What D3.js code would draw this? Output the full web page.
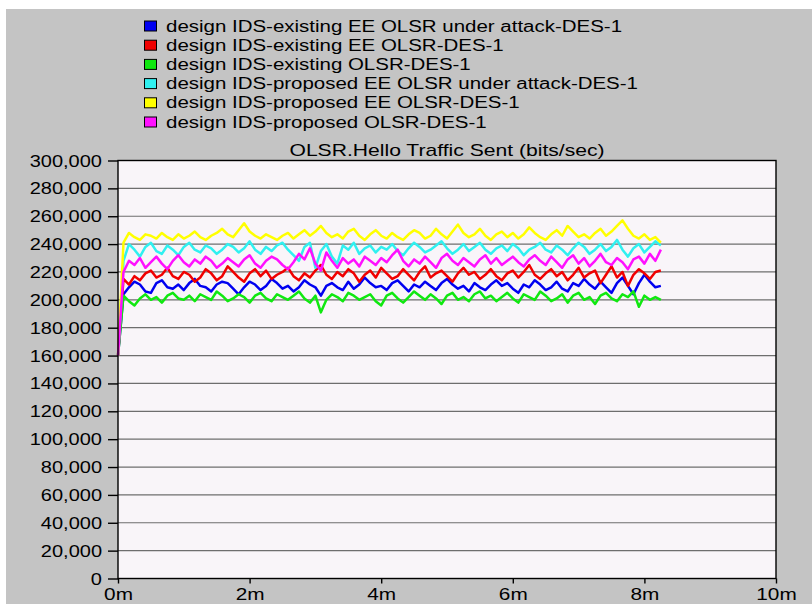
<!DOCTYPE html>
<html>
<head>
<meta charset="utf-8">
<script src="https://cdn.jsdelivr.net/npm/d3@7"></script>
<style>
  html, body { margin: 0; padding: 0; background: #ffffff; }
  svg { display: block; }
  text { font-family: "Liberation Sans", Arial, sans-serif; fill: #000; }
</style>
</head>
<body>
<div id="chart"></div>
<script>
// series names, legend order
var seriesNames = [
  "design IDS-existing EE OLSR under attack-DES-1",
  "design IDS-existing EE OLSR-DES-1",
  "design IDS-existing OLSR-DES-1",
  "design IDS-proposed EE OLSR under attack-DES-1",
  "design IDS-proposed EE OLSR-DES-1",
  "design IDS-proposed OLSR-DES-1"
];
var seriesColors = ["#0000f0", "#f00000", "#10e810", "#30f0f0", "#ffff00", "#ff10ff"];

// sample spacing (seconds)
var sampleSeconds = 5;

// values in thousands of bits/sec
var existingUnderAttack = [
  160, 204, 209, 213, 211, 206, 205, 212, 214, 209,
  208, 211, 207, 212, 215, 210, 209, 206, 211, 213,
  212, 208, 204, 209, 213, 211, 207, 210, 215, 212,
  208, 210, 206, 209, 214, 211, 209, 203, 210, 212,
  209, 207, 213, 208, 211, 216, 212, 209, 210, 207,
  212, 214, 210, 206, 211, 209, 213, 210, 207, 212,
  215, 211, 208, 210, 206, 212, 209, 207, 211, 214,
  210, 212, 208, 205, 211, 209, 214, 211, 207, 209,
  213, 208, 206, 212, 210, 215, 211, 208, 213, 209,
  205, 212, 216, 210, 204, 212, 218, 213, 209, 210
];
var existingEE = [
  160, 215, 211, 217, 214, 219, 221, 216, 218, 223,
  217, 215, 220, 218, 213, 216, 222, 219, 214, 217,
  224, 220, 216, 213, 219, 222, 217, 221, 215, 218,
  220, 223, 217, 214, 219, 216, 221, 225, 218, 215,
  220, 217, 222, 219, 213, 218, 221, 216, 223, 219,
  215, 217, 222, 218, 214, 220, 224, 216, 219, 221,
  217, 213, 219, 223, 218, 220, 215, 218, 222, 217,
  214, 219, 221, 216, 220, 225, 218, 215, 219, 222,
  217, 220, 214, 218, 223, 216, 219, 221, 212, 218,
  224, 216, 220, 210, 218, 222, 219, 215, 220, 221
];
var existingOLSR = [
  160, 203, 199, 196, 201, 204, 200, 202, 198, 203,
  205, 201, 200, 203, 199, 204, 202, 200, 206, 203,
  199, 201, 204, 202, 198, 203, 205, 201, 199, 204,
  202, 200, 203, 206, 201, 198, 203, 191, 200, 204,
  202, 199, 205, 203, 200, 202, 204, 199, 196, 203,
  205, 201, 198, 202, 206, 203, 200, 204, 201, 197,
  203, 205, 200, 202, 199, 204, 206, 201, 203, 199,
  202, 205, 201, 198, 204, 202, 200, 206, 203, 199,
  201, 204, 198, 203, 205, 200, 202, 197, 203, 205,
  201, 199, 204, 202, 206, 195, 203, 200, 202, 200
];
var proposedUnderAttack = [
  160, 228, 240, 236, 231, 238, 241, 235, 233, 239,
  236, 232, 238, 241, 236, 234, 239, 237, 233, 236,
  240, 238, 234, 237, 242, 236, 233, 238, 235, 239,
  241, 236, 232, 228, 238, 241, 223, 235, 240, 231,
  226, 239, 236, 241, 233, 237, 239, 234, 238, 236,
  240, 235, 232, 237, 241, 238, 234, 236, 239, 242,
  237, 233, 236, 240, 235, 238, 241, 236, 233, 237,
  239, 235, 240, 237, 232, 236, 238, 241, 236, 234,
  239, 236, 232, 237, 241, 238, 233, 236, 240, 235,
  238, 243, 236, 231, 237, 240, 234, 238, 242, 239
];
var proposedEE = [
  160, 241, 248, 245, 243, 247, 246, 244, 248, 245,
  243, 247, 244, 246, 249, 245, 243, 246, 248, 251,
  247, 245, 250, 255, 249, 246, 244, 247, 245, 243,
  246, 248, 244, 247, 250, 246, 249, 253, 248, 245,
  247, 244, 249, 251, 246, 243, 247, 250, 246, 244,
  248, 245, 243, 247, 250, 248, 244, 246, 251, 247,
  244, 249, 254, 248, 245, 247, 251, 246, 243, 247,
  249, 245, 248, 244, 247, 252, 248, 245, 243, 247,
  250, 246, 253, 249, 245, 247, 244, 248, 251, 246,
  249, 253, 257, 251, 246, 244, 247, 243, 245, 241
];
var proposedOLSR = [
  160, 220, 228, 225, 230, 223, 227, 231, 226, 222,
  228, 232, 227, 224, 229, 226, 231, 228, 223, 226,
  230, 227, 224, 229, 232, 226, 223, 228, 231, 229,
  225, 222, 227, 233, 229, 237, 226, 221, 234, 228,
  223, 230, 226, 229, 224, 231, 228, 225, 230, 227,
  232, 236, 228, 224, 229, 226, 231, 227, 223, 230,
  233, 228, 225, 230, 227, 224, 229, 232, 226, 230,
  225, 228, 231, 227, 224, 229, 232, 228, 225, 231,
  227, 223, 229, 232, 226, 230, 224, 228, 233, 227,
  225, 230, 227, 222, 229, 231, 226, 233, 228, 236
];
var seriesValues = [existingUnderAttack, existingEE, existingOLSR,
                    proposedUnderAttack, proposedEE, proposedOLSR];

var xTicks = [0, 2, 4, 6, 8, 10];          // minutes
var yTicks = [0, 20, 40, 60, 80, 100, 120, 140, 160, 180, 200, 220, 240, 260, 280, 300];

var svgWidth = 812, svgHeight = 604;
var margin = {top: 160.5, left: 118, right: 36, bottom: 25.5};
var width = svgWidth - margin.left - margin.right;
var height = svgHeight - margin.top - margin.bottom;

var svg = d3.select("#chart").append("svg")
    .attr("width", svgWidth)
    .attr("height", svgHeight);

// gray panel
svg.append("rect")
    .attr("x", 6).attr("y", 9)
    .attr("width", svgWidth - 6).attr("height", svgHeight - 9)
    .attr("fill", "#c4c4c4");

// legend (source font is drawn wide, hence the x stretch)
var legend = svg.append("g").attr("class", "legend");
seriesNames.forEach(function(name, i) {
  var baseY = 31.5 + i * 19.2;
  legend.append("rect")
      .attr("x", 144.5).attr("y", baseY - 10.5)
      .attr("width", 12).attr("height", 10)
      .attr("fill", seriesColors[i])
      .attr("stroke", "#000").attr("stroke-width", 1);
  legend.append("text")
      .attr("transform", "translate(166," + baseY + ") scale(1.28,1)")
      .attr("font-size", "16px")
      .text(name);
});

var chartGroup = svg.append("g")
    .attr("transform", "translate(" + margin.left + "," + margin.top + ")");

var xScale = d3.scaleLinear().domain([0, 10]).range([0, width]);
var yScale = d3.scaleLinear().domain([0, 300]).range([height, 0]);

// plot background
chartGroup.append("rect")
    .attr("width", width).attr("height", height)
    .attr("fill", "#f9f5f9");

// grid lines
chartGroup.append("g")
  .selectAll("line")
  .data(yTicks.slice(1, -1))
  .enter()
  .append("line")
    .attr("x1", 0).attr("x2", width)
    .attr("y1", d => yScale(d)).attr("y2", d => yScale(d))
    .attr("stroke", "#6e6e6e")
    .attr("stroke-width", 1.2);

// series lines
var line = d3.line()
    .x((d, i) => xScale(i * sampleSeconds / 60))
    .y(d => yScale(d));

seriesValues.forEach(function(vals, i) {
  chartGroup.append("path")
      .datum(vals)
      .attr("d", line)
      .attr("fill", "none")
      .attr("stroke", seriesColors[i])
      .attr("stroke-width", 2.5)
      .attr("stroke-linejoin", "round");
});

// frame
chartGroup.append("rect")
    .attr("width", width).attr("height", height)
    .attr("fill", "none")
    .attr("stroke", "#000")
    .attr("stroke-width", 1.4);

// y axis
var yAxis = d3.axisLeft(yScale).tickValues(yTicks).tickSize(10).tickFormat("");
var yg = chartGroup.append("g").call(yAxis);
yg.select(".domain").remove();
yg.selectAll(".tick line").attr("stroke", "#000").attr("stroke-width", 1.4);
yg.selectAll(".tick")
  .append("text")
    .attr("transform", "translate(-16,5.5) scale(1.25,1)")
    .attr("text-anchor", "end")
    .attr("font-size", "16px")
    .attr("fill", "#000")
    .text(d => d3.format(",")(d * 1000));

// x axis
var xAxis = d3.axisBottom(xScale).tickValues(xTicks).tickSize(5).tickFormat("");
var xg = chartGroup.append("g")
    .attr("transform", "translate(0," + height + ")")
    .call(xAxis);
xg.select(".domain").remove();
xg.selectAll(".tick line").attr("stroke", "#000").attr("stroke-width", 1.4);
xg.selectAll(".tick")
  .append("text")
    .attr("transform", "translate(0,21) scale(1.3,1)")
    .attr("text-anchor", "middle")
    .attr("font-size", "16px")
    .attr("fill", "#000")
    .text(d => d + "m");

// title
svg.append("text")
    .attr("transform", "translate(" + (margin.left + width / 2) + ",156) scale(1.32,1)")
    .attr("text-anchor", "middle")
    .attr("font-size", "16px")
    .text("OLSR.Hello Traffic Sent (bits/sec)");
</script>
</body>
</html>
